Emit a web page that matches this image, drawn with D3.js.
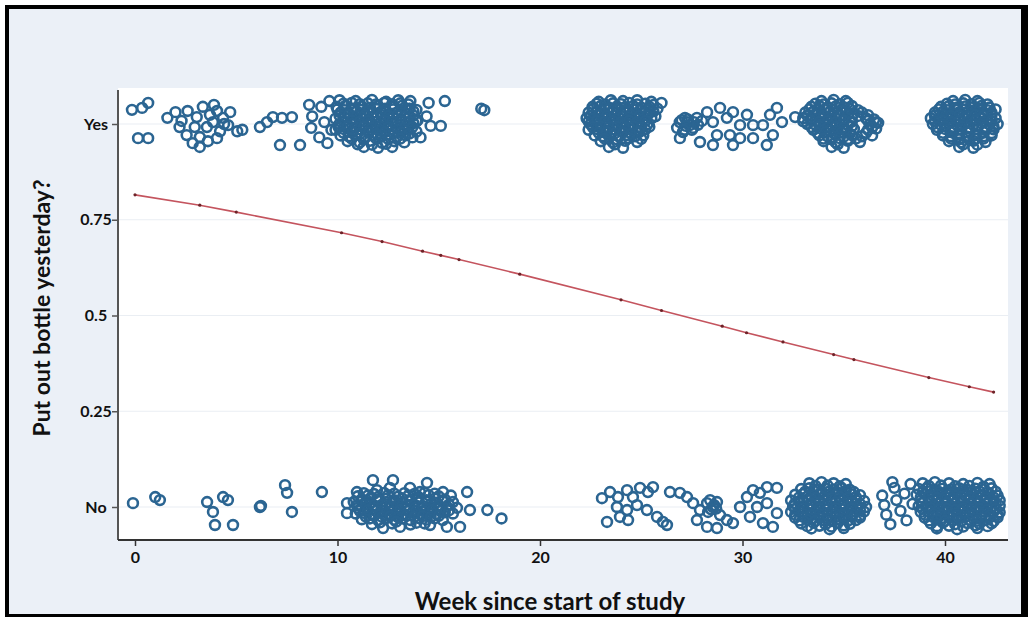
<!DOCTYPE html>
<html>
<head>
<meta charset="utf-8">
<script src="https://cdn.jsdelivr.net/npm/d3@7"></script>
<style>
  html, body { margin: 0; padding: 0; background: #fff; }
  svg text { font-family: Lato, "Open Sans", sans-serif; font-weight: 700; fill: #111; }
</style>
</head>
<body>
<div id="chart"></div>
<script>
// Data
const xTicks = [0, 10, 20, 30, 40]
const yTicks = [0, 0.25, 0.5, 0.75, 1]
const yTickLabels = ['No', '0.25', '0.5', '0.75', 'Yes']

// jittered responses: [week, jittered answer]
const yesPoints = [
  [-0.15,1.037],[0.35,1.042],[0.65,1.055],[0.15,0.963],[0.65,0.963],
  [1.6,1.016],[2.0,1.031],[2.3,1.008],[2.6,1.034],[3.05,1.018],[3.35,1.045],[3.7,1.024],[4.05,1.034],[4.35,1.016],[4.7,1.031],
  [2.2,0.992],[2.55,0.971],[2.95,0.992],[3.2,0.966],[3.55,0.992],[3.85,1.005],[4.2,0.981],[4.6,0.997],[5.05,0.981],[5.3,0.985],
  [2.85,0.95],[3.2,0.94],[4.05,0.963],[3.6,0.955],[4.4,1.0],[3.9,1.05],
  [6.17,0.992],[6.52,1.005],[6.81,1.018],[7.26,1.016],[7.75,1.018],[7.16,0.945],[8.15,0.945],
  [8.6,1.05],[8.75,1.02],[8.7,0.99],[9.2,1.045],[9.35,1.005],[9.1,0.965],[9.6,1.06],[9.7,0.985],[9.5,0.95],
  [10.1,1.062],[10.9,1.06],[11.7,1.063],[12.4,1.058],[13.0,1.062],[13.6,1.06],
  [9.95,1.045],[10.4,1.048],[10.8,1.04],[11.2,1.046],[11.6,1.042],[12.0,1.047],[12.35,1.04],[12.8,1.045],[13.2,1.048],[13.55,1.04],
  [10.15,1.03],[10.55,1.028],[10.95,1.033],[11.35,1.027],[11.75,1.03],[12.15,1.032],[12.55,1.026],[12.95,1.03],[13.35,1.028],[13.75,1.033],
  [9.9,1.014],[10.35,1.017],[10.75,1.012],[11.15,1.016],[11.55,1.013],[11.95,1.018],[12.35,1.012],[12.75,1.016],[13.15,1.013],[13.55,1.017],[13.95,1.01],
  [10.1,1.0],[10.5,0.998],[10.9,1.003],[11.3,0.997],[11.7,1.0],[12.1,1.002],[12.5,0.997],[12.9,1.001],[13.3,0.998],[13.75,1.002],
  [9.9,0.985],[10.3,0.987],[10.7,0.982],[11.1,0.986],[11.5,0.983],[11.9,0.988],[12.3,0.982],[12.7,0.986],[13.1,0.983],[13.5,0.987],[13.9,0.98],
  [10.15,0.97],[10.55,0.968],[10.95,0.972],[11.35,0.967],[11.75,0.971],[12.15,0.968],[12.55,0.972],[12.95,0.967],[13.35,0.97],[13.7,0.965],
  [10.5,0.955],[11.1,0.952],[11.6,0.956],[12.2,0.951],[12.8,0.955],[13.3,0.952],
  [11.3,0.94],[12.0,0.938],[12.7,0.94],
  [10.3,1.053],[10.7,1.055],[11.1,1.052],[11.5,1.054],[11.9,1.051],[12.3,1.055],[12.7,1.052],[13.1,1.054],[13.5,1.051],
  [10.0,1.038],[10.35,1.036],[10.75,1.039],[11.15,1.037],[11.55,1.035],[11.95,1.039],[12.35,1.036],[12.75,1.038],[13.15,1.035],[13.55,1.039],[13.9,1.037],
  [10.1,1.022],[10.55,1.024],[10.95,1.021],[11.35,1.023],[11.75,1.02],[12.15,1.024],[12.55,1.021],[12.95,1.023],[13.35,1.02],[13.75,1.022],
  [10.3,1.007],[10.7,1.009],[11.1,1.006],[11.5,1.008],[11.9,1.005],[12.3,1.009],[12.7,1.006],[13.1,1.008],[13.5,1.005],[13.9,1.007],
  [10.05,0.992],[10.5,0.994],[10.9,0.991],[11.3,0.993],[11.7,0.99],[12.1,0.994],[12.5,0.991],[12.9,0.993],[13.3,0.99],[13.7,0.992],
  [10.3,0.977],[10.75,0.979],[11.15,0.976],[11.55,0.978],[11.95,0.975],[12.35,0.979],[12.75,0.976],[13.15,0.978],[13.55,0.975],
  [10.7,0.962],[11.3,0.96],[11.9,0.963],[12.5,0.961],[13.1,0.962],[11.0,0.947],[11.7,0.946],[12.4,0.948],
  [14.5,1.055],[15.3,1.06],[14.4,1.02],[14.6,0.995],[15.1,0.995],[14.1,0.965],[17.1,1.04],[17.25,1.036],
  [22.9,1.058],[23.5,1.062],[24.1,1.06],[24.8,1.062],[25.5,1.058],[26.0,1.055],
  [22.6,1.045],[23.0,1.047],[23.4,1.043],[23.8,1.046],[24.2,1.044],[24.6,1.047],[25.0,1.043],[25.4,1.045],
  [22.4,1.03],[22.8,1.032],[23.2,1.028],[23.6,1.031],[24.0,1.029],[24.4,1.032],[24.8,1.028],[25.2,1.03],[25.6,1.033],
  [22.3,1.015],[22.7,1.013],[23.1,1.017],[23.5,1.012],[23.9,1.016],[24.3,1.013],[24.7,1.017],[25.1,1.012],[25.5,1.015],
  [22.5,1.0],[22.9,0.998],[23.3,1.002],[23.7,0.997],[24.1,1.001],[24.5,0.998],[24.9,1.002],[25.3,0.999],
  [22.4,0.985],[22.8,0.987],[23.2,0.983],[23.6,0.986],[24.0,0.982],[24.4,0.987],[24.8,0.984],[25.2,0.986],
  [22.7,0.97],[23.1,0.968],[23.5,0.972],[23.9,0.967],[24.3,0.971],[24.7,0.968],[25.1,0.97],
  [23.0,0.955],[23.6,0.952],[24.2,0.956],[24.8,0.953],[23.4,0.94],[24.1,0.938],
  [22.8,1.053],[23.2,1.051],[23.6,1.054],[24.0,1.052],[24.4,1.055],[24.8,1.051],[25.2,1.053],[25.6,1.05],
  [22.6,1.038],[23.0,1.036],[23.4,1.039],[23.8,1.037],[24.2,1.035],[24.6,1.039],[25.0,1.036],[25.4,1.038],[25.8,1.04],
  [22.5,1.022],[22.9,1.024],[23.3,1.021],[23.7,1.023],[24.1,1.02],[24.5,1.024],[24.9,1.021],[25.3,1.023],[25.7,1.02],
  [22.4,1.007],[22.8,1.009],[23.2,1.006],[23.6,1.008],[24.0,1.005],[24.4,1.009],[24.8,1.006],[25.2,1.008],
  [22.6,0.992],[23.0,0.994],[23.4,0.991],[23.8,0.993],[24.2,0.99],[24.6,0.994],[25.0,0.991],[25.4,0.993],
  [22.9,0.977],[23.3,0.979],[23.7,0.976],[24.1,0.978],[24.5,0.975],[24.9,0.979],
  [23.2,0.962],[23.8,0.96],[24.4,0.963],[25.0,0.961],[23.7,0.947],
  [26.77,0.99],[27.26,1.005],[27.75,1.016],[27.06,0.979],[27.56,0.99],[28.25,1.031],[28.54,1.005],[28.89,1.042],[29.23,1.016],
  [29.53,1.031],[29.88,0.997],[30.22,1.024],[30.52,0.997],[28.74,0.971],[29.38,0.971],[29.88,0.963],[30.52,0.963],[26.91,0.963],
  [27.9,0.953],[28.54,0.945],[29.53,0.945],[31.01,0.997],[31.36,1.024],[31.5,0.971],[31.2,0.945],[31.7,1.042],[31.95,1.005],
  [27.16,1.016],[27.4,0.997],[26.9,1.005],[32.6,1.018],
  [27.0,1.01],[27.3,1.012],[27.6,1.005],[27.2,0.995],[27.5,0.985],[27.8,0.998],[27.1,0.985],[28.0,1.008],
  [33.9,1.06],[34.5,1.063],[35.1,1.06],
  [33.4,1.045],[33.8,1.047],[34.2,1.043],[34.6,1.046],[35.0,1.044],[35.4,1.047],
  [33.1,1.03],[33.5,1.032],[33.9,1.028],[34.3,1.031],[34.7,1.029],[35.1,1.032],[35.5,1.028],[35.9,1.03],
  [33.0,1.015],[33.4,1.013],[33.8,1.017],[34.2,1.012],[34.6,1.016],[35.0,1.013],[35.4,1.017],[36.1,1.015],[36.5,1.012],
  [33.2,1.0],[33.6,0.998],[34.0,1.002],[34.4,0.997],[34.8,1.001],[35.2,0.998],[36.3,1.0],[36.7,1.003],
  [33.5,0.985],[33.9,0.987],[34.3,0.983],[34.7,0.986],[35.1,0.982],[35.5,0.987],[36.2,0.985],[36.6,0.988],
  [33.8,0.97],[34.2,0.968],[34.6,0.972],[35.0,0.967],[35.4,0.971],[35.9,0.968],[36.4,0.97],
  [34.0,0.955],[34.6,0.952],[35.2,0.956],[35.8,0.953],[34.4,0.94],[35.0,0.938],
  [33.6,1.053],[34.0,1.051],[34.4,1.054],[34.8,1.052],[35.2,1.055],
  [33.3,1.038],[33.7,1.036],[34.1,1.039],[34.5,1.037],[34.9,1.035],[35.3,1.039],[35.7,1.036],
  [33.2,1.022],[33.6,1.024],[34.0,1.021],[34.4,1.023],[34.8,1.02],[35.2,1.024],[35.7,1.021],[36.2,1.023],
  [33.0,1.007],[33.4,1.009],[33.8,1.006],[34.2,1.008],[34.6,1.005],[35.0,1.009],[35.4,1.006],[36.2,1.008],[36.6,1.005],
  [33.4,0.992],[33.8,0.994],[34.2,0.991],[34.6,0.993],[35.0,0.99],[35.4,0.994],[36.4,0.991],
  [33.7,0.977],[34.1,0.979],[34.5,0.976],[34.9,0.978],[35.3,0.975],[36.1,0.977],
  [34.0,0.962],[34.4,0.96],[34.8,0.963],[35.2,0.961],[35.6,0.962],[34.7,0.947],
  [40.4,1.06],[41.0,1.063],[41.6,1.06],
  [39.8,1.045],[40.2,1.047],[40.6,1.043],[41.0,1.046],[41.4,1.044],[41.8,1.047],[42.2,1.043],
  [39.5,1.03],[39.9,1.032],[40.3,1.028],[40.7,1.031],[41.1,1.029],[41.5,1.032],[41.9,1.028],[42.3,1.03],
  [39.3,1.015],[39.7,1.013],[40.1,1.017],[40.5,1.012],[40.9,1.016],[41.3,1.013],[41.7,1.017],[42.1,1.012],[42.5,1.015],
  [39.4,1.0],[39.8,0.998],[40.2,1.002],[40.6,0.997],[41.0,1.001],[41.4,0.998],[41.8,1.002],[42.2,0.999],[42.6,1.0],
  [39.6,0.985],[40.0,0.987],[40.4,0.983],[40.8,0.986],[41.2,0.982],[41.6,0.987],[42.0,0.984],[42.4,0.986],
  [39.9,0.97],[40.3,0.968],[40.7,0.972],[41.1,0.967],[41.5,0.971],[41.9,0.968],[42.3,0.97],
  [40.2,0.955],[40.8,0.952],[41.4,0.956],[42.0,0.953],[40.7,0.94],[41.4,0.938],
  [40.1,1.053],[40.5,1.051],[40.9,1.054],[41.3,1.052],[41.7,1.055],[42.1,1.051],
  [39.7,1.038],[40.1,1.036],[40.5,1.039],[40.9,1.037],[41.3,1.035],[41.7,1.039],[42.1,1.036],[42.5,1.038],
  [39.5,1.022],[39.9,1.024],[40.3,1.021],[40.7,1.023],[41.1,1.02],[41.5,1.024],[41.9,1.021],[42.3,1.023],
  [39.5,1.007],[39.9,1.009],[40.3,1.006],[40.7,1.008],[41.1,1.005],[41.5,1.009],[41.9,1.006],[42.3,1.008],
  [39.6,0.992],[40.0,0.994],[40.4,0.991],[40.8,0.993],[41.2,0.99],[41.6,0.994],[42.0,0.991],[42.4,0.993],
  [39.9,0.977],[40.3,0.979],[40.7,0.976],[41.1,0.978],[41.5,0.975],[41.9,0.979],[42.3,0.976],
  [40.3,0.962],[40.7,0.96],[41.1,0.963],[41.5,0.961],[41.9,0.962],[40.9,0.947],[41.6,0.946]
]

const noPoints = [
  [-0.1,0.01],[1.0,0.026],[1.23,0.018],[3.56,0.013],[4.35,0.026],[4.59,0.018],[3.85,-0.013],[3.95,-0.047],[4.84,-0.047],
  [6.17,0.0],[6.22,0.003],[7.41,0.057],[7.51,0.037],[7.75,-0.013],[9.23,0.039],
  [11.75,0.07],[12.74,0.07],[14.42,0.063],[10.96,0.039],[11.95,0.044],[12.59,0.05],[13.58,0.05],[14.07,0.039],[15.21,0.039],[16.4,0.039],
  [10.47,0.01],[10.47,-0.016],[16.54,-0.008],[15.4,-0.052],[16.05,-0.052],[12.25,-0.055],[13.09,-0.052],[14.57,-0.047],
  [11.0,0.028],[11.5,0.03],[12.0,0.026],[12.5,0.031],[13.0,0.027],[13.5,0.03],[14.0,0.026],[14.5,0.031],[15.0,0.028],[15.6,0.03],
  [10.8,0.013],[11.2,0.015],[11.6,0.011],[12.0,0.016],[12.4,0.012],[12.8,0.015],[13.2,0.011],[13.6,0.016],[14.0,0.012],[14.4,0.015],[14.8,0.011],[15.2,0.016],[15.7,0.013],
  [11.0,-0.002],[11.4,0.0],[11.8,-0.004],[12.2,0.001],[12.6,-0.003],[13.0,0.0],[13.4,-0.004],[13.8,0.001],[14.2,-0.003],[14.6,0.0],[15.0,-0.004],[15.4,0.001],[15.9,-0.002],
  [10.9,-0.017],[11.3,-0.015],[11.7,-0.019],[12.1,-0.014],[12.5,-0.018],[12.9,-0.015],[13.3,-0.019],[13.7,-0.014],[14.1,-0.018],[14.5,-0.015],[14.9,-0.019],[15.3,-0.014],[15.7,-0.017],
  [11.2,-0.032],[11.6,-0.03],[12.0,-0.034],[12.4,-0.029],[12.8,-0.033],[13.2,-0.03],[13.6,-0.034],[14.0,-0.029],[14.4,-0.033],[14.8,-0.03],[15.2,-0.034],
  [11.7,-0.045],[12.7,-0.043],[13.6,-0.046],[14.3,-0.043],
  [11.3,0.036],[11.8,0.034],[12.3,0.037],[12.8,0.035],[13.3,0.036],[13.8,0.034],[14.3,0.037],[14.8,0.035],
  [11.2,0.02],[11.6,0.022],[12.0,0.019],[12.4,0.021],[12.8,0.018],[13.2,0.022],[13.6,0.019],[14.0,0.021],[14.4,0.018],[14.8,0.022],[15.3,0.02],
  [11.0,0.005],[11.4,0.007],[11.8,0.004],[12.2,0.006],[12.6,0.003],[13.0,0.007],[13.4,0.004],[13.8,0.006],[14.2,0.003],[14.6,0.007],[15.0,0.004],[15.5,0.006],
  [11.1,-0.01],[11.5,-0.008],[11.9,-0.011],[12.3,-0.009],[12.7,-0.012],[13.1,-0.008],[13.5,-0.011],[13.9,-0.009],[14.3,-0.012],[14.7,-0.008],[15.1,-0.011],[15.5,-0.009],
  [11.4,-0.025],[11.8,-0.023],[12.2,-0.026],[12.6,-0.024],[13.0,-0.027],[13.4,-0.023],[13.8,-0.026],[14.2,-0.024],[14.6,-0.027],[15.0,-0.023],
  [12.1,-0.04],[12.9,-0.038],[13.9,-0.041],
  [17.4,-0.008],[18.1,-0.03],
  [23.06,0.023],[23.46,0.039],[23.85,0.026],[24.3,0.044],[24.59,0.026],[24.94,0.05],[25.33,0.039],[25.58,0.052],[23.8,0.0],
  [24.3,-0.008],[24.79,0.005],[25.28,-0.008],[23.95,-0.026],[24.35,-0.034],[25.78,-0.026],[23.31,-0.039],[26.07,-0.039],[26.27,-0.047],
  [26.42,0.039],[26.91,0.037],[27.26,0.026],[27.56,0.01],[27.9,-0.008],[28.25,0.01],[28.54,0.0],[28.4,0.018],[28.74,0.013],[28.3,-0.013],
  [28.89,-0.021],[29.23,-0.034],[29.53,-0.042],[29.88,0.0],[30.22,0.026],[30.52,0.044],[30.86,0.037],[31.21,0.052],[31.7,0.05],
  [30.37,-0.026],[31.01,-0.042],[31.5,-0.052],[27.75,-0.034],[28.25,-0.052],[28.74,-0.055],[30.72,0.0],[31.21,0.01],[31.7,-0.016],
  [28.6,0.005],[28.45,-0.006],[28.7,-0.004],
  [33.3,0.062],[33.9,0.065],[34.5,0.062],[35.1,0.06],
  [32.9,0.047],[33.3,0.049],[33.7,0.045],[34.1,0.048],[34.5,0.046],[34.9,0.049],[35.3,0.045],
  [32.6,0.032],[33.0,0.034],[33.4,0.03],[33.8,0.033],[34.2,0.031],[34.6,0.034],[35.0,0.03],[35.4,0.033],[35.8,0.031],
  [32.4,0.017],[32.8,0.015],[33.2,0.019],[33.6,0.014],[34.0,0.018],[34.4,0.015],[34.8,0.019],[35.2,0.014],[35.6,0.018],[36.0,0.016],
  [32.5,0.002],[32.9,0.0],[33.3,0.004],[33.7,-0.001],[34.1,0.003],[34.5,0.0],[34.9,0.004],[35.3,-0.001],[35.7,0.002],[36.1,0.0],
  [32.4,-0.013],[32.8,-0.011],[33.2,-0.015],[33.6,-0.01],[34.0,-0.014],[34.4,-0.011],[34.8,-0.015],[35.2,-0.01],[35.6,-0.013],[36.0,-0.012],
  [32.6,-0.028],[33.0,-0.026],[33.4,-0.03],[33.8,-0.025],[34.2,-0.029],[34.6,-0.026],[35.0,-0.03],[35.4,-0.025],[35.8,-0.028],
  [32.9,-0.043],[33.5,-0.041],[34.1,-0.045],[34.7,-0.042],[35.3,-0.044],[33.4,-0.056],[34.3,-0.058],[35.0,-0.055],
  [33.6,0.055],[34.2,0.056],[34.8,0.054],
  [33.1,0.04],[33.5,0.042],[33.9,0.039],[34.3,0.041],[34.7,0.038],[35.1,0.042],[35.5,0.039],
  [32.8,0.025],[33.2,0.027],[33.6,0.024],[34.0,0.026],[34.4,0.023],[34.8,0.027],[35.2,0.024],[35.6,0.026],
  [32.6,0.01],[33.0,0.012],[33.4,0.009],[33.8,0.011],[34.2,0.008],[34.6,0.012],[35.0,0.009],[35.4,0.011],[35.8,0.008],
  [32.6,-0.005],[33.0,-0.003],[33.4,-0.006],[33.8,-0.004],[34.2,-0.007],[34.6,-0.003],[35.0,-0.006],[35.4,-0.004],[35.8,-0.007],
  [32.6,-0.02],[33.0,-0.018],[33.4,-0.021],[33.8,-0.019],[34.2,-0.022],[34.6,-0.018],[35.0,-0.021],[35.4,-0.019],[35.8,-0.022],
  [32.8,-0.035],[33.2,-0.033],[33.6,-0.036],[34.0,-0.034],[34.4,-0.037],[34.8,-0.033],[35.2,-0.036],[35.6,-0.034],
  [33.2,-0.05],[33.8,-0.049],[34.4,-0.051],[35.0,-0.048],
  [36.9,0.03],[37.0,0.005],[37.1,-0.02],[37.3,-0.045],[37.5,0.05],[37.6,0.018],[37.8,-0.01],[38.0,0.035],[38.1,-0.035],[38.3,0.06],[38.4,0.008],[37.4,0.065],
  [38.9,0.062],[39.5,0.065],[40.2,0.062],[40.9,0.06],[41.6,0.063],[42.2,0.06],
  [38.7,0.047],[39.1,0.049],[39.5,0.045],[39.9,0.048],[40.3,0.046],[40.7,0.049],[41.1,0.045],[41.5,0.048],[41.9,0.046],[42.3,0.049],
  [38.6,0.032],[39.0,0.034],[39.4,0.03],[39.8,0.033],[40.2,0.031],[40.6,0.034],[41.0,0.03],[41.4,0.033],[41.8,0.031],[42.2,0.034],[42.6,0.03],
  [38.8,0.017],[39.2,0.015],[39.6,0.019],[40.0,0.014],[40.4,0.018],[40.8,0.015],[41.2,0.019],[41.6,0.014],[42.0,0.018],[42.4,0.015],[42.7,0.017],
  [38.7,0.002],[39.1,0.0],[39.5,0.004],[39.9,-0.001],[40.3,0.003],[40.7,0.0],[41.1,0.004],[41.5,-0.001],[41.9,0.002],[42.3,0.0],[42.7,0.003],
  [38.8,-0.013],[39.2,-0.011],[39.6,-0.015],[40.0,-0.01],[40.4,-0.014],[40.8,-0.011],[41.2,-0.015],[41.6,-0.01],[42.0,-0.013],[42.4,-0.012],[42.7,-0.014],
  [39.0,-0.028],[39.4,-0.026],[39.8,-0.03],[40.2,-0.025],[40.6,-0.029],[41.0,-0.026],[41.4,-0.03],[41.8,-0.025],[42.2,-0.028],[42.6,-0.027],
  [39.3,-0.043],[39.9,-0.041],[40.5,-0.045],[41.1,-0.042],[41.7,-0.044],[42.3,-0.043],[39.6,-0.056],[40.6,-0.058],[41.6,-0.055],
  [39.2,0.055],[39.8,0.056],[40.5,0.054],[41.2,0.055],[41.9,0.053],
  [38.9,0.04],[39.3,0.042],[39.7,0.039],[40.1,0.041],[40.5,0.038],[40.9,0.042],[41.3,0.039],[41.7,0.041],[42.1,0.038],[42.5,0.04],
  [38.8,0.025],[39.2,0.027],[39.6,0.024],[40.0,0.026],[40.4,0.023],[40.8,0.027],[41.2,0.024],[41.6,0.026],[42.0,0.023],[42.4,0.025],
  [38.9,0.01],[39.3,0.012],[39.7,0.009],[40.1,0.011],[40.5,0.008],[40.9,0.012],[41.3,0.009],[41.7,0.011],[42.1,0.008],[42.5,0.01],
  [38.9,-0.005],[39.3,-0.003],[39.7,-0.006],[40.1,-0.004],[40.5,-0.007],[40.9,-0.003],[41.3,-0.006],[41.7,-0.004],[42.1,-0.007],[42.5,-0.005],
  [39.0,-0.02],[39.4,-0.018],[39.8,-0.021],[40.2,-0.019],[40.6,-0.022],[41.0,-0.018],[41.4,-0.021],[41.8,-0.019],[42.2,-0.022],[42.6,-0.02],
  [39.2,-0.035],[39.6,-0.033],[40.0,-0.036],[40.4,-0.034],[40.8,-0.037],[41.2,-0.033],[41.6,-0.036],[42.0,-0.034],[42.4,-0.037],
  [39.6,-0.05],[40.2,-0.049],[40.9,-0.051],[41.5,-0.048],[42.1,-0.05]
]

// fitted probability (logistic fit) at observed weeks
const fitWeeks = [0, 3.2, 5.0, 10.2, 12.2, 14.2, 15.1, 16.0, 19.0, 24.0, 26.0, 29.0, 30.2, 32.0, 34.5, 35.5, 39.2, 41.2, 42.4]
const fitProb  = [0.815, 0.788, 0.770, 0.716, 0.693, 0.668, 0.657, 0.646, 0.608, 0.541, 0.513, 0.472, 0.455, 0.431, 0.398, 0.385, 0.338, 0.314, 0.300]

// Dimensions
const dimensions = { width: 1028, height: 617 }
const plot = { left: 118, right: 1008, top: 88, bottom: 540 }

const svg = d3.select('#chart')
  .append('svg')
  .attr('width', dimensions.width)
  .attr('height', dimensions.height)

// frame
svg.append('rect')
  .attr('x', 5).attr('y', 5)
  .attr('width', dimensions.width - 5).attr('height', dimensions.height - 5)
  .attr('fill', '#000')
svg.append('rect')
  .attr('x', 9).attr('y', 9)
  .attr('width', 1021 - 9).attr('height', 614 - 9)
  .attr('fill', '#ebf0f7')

svg.append('rect')
  .attr('x', plot.left).attr('y', plot.top)
  .attr('width', plot.right - plot.left).attr('height', plot.bottom - plot.top)
  .attr('fill', '#fff')

// scales
const x = d3.scaleLinear().domain([0, 40]).range([135, 945])
const y = d3.scaleLinear().domain([0, 1]).range([507, 124])

// grid
svg.append('g')
  .selectAll('line')
  .data(yTicks)
  .join('line')
  .attr('x1', plot.left).attr('x2', plot.right)
  .attr('y1', d => y(d)).attr('y2', d => y(d))
  .attr('stroke', '#eaeef3')
  .attr('stroke-width', 1.2)

// points
const pts = svg.append('g')
  .attr('fill', 'none')
  .attr('stroke', '#2b6592')
  .attr('stroke-width', 2.6)

pts.selectAll('circle')
  .data(yesPoints.concat(noPoints))
  .join('circle')
  .attr('cx', d => x(d[0]))
  .attr('cy', d => y(d[1]))
  .attr('r', 4.9)

// fitted line
const fit = fitWeeks.map((w, i) => [w, fitProb[i]])

svg.append('path')
  .datum(fit)
  .attr('fill', 'none')
  .attr('stroke', '#c4545e')
  .attr('stroke-width', 1.6)
  .attr('d', d3.line().x(d => x(d[0])).y(d => y(d[1])))

svg.append('g')
  .selectAll('circle')
  .data(fit)
  .join('circle')
  .attr('cx', d => x(d[0]))
  .attr('cy', d => y(d[1]))
  .attr('r', 1.6)
  .attr('fill', '#6e2328')

// axes
const yAxis = svg.append('g')
  .attr('transform', `translate(${plot.left},0)`)
  .call(d3.axisLeft(y)
    .tickValues(yTicks)
    .tickFormat((d, i) => yTickLabels[i])
    .tickSize(6))
yAxis.select('.domain').remove()
yAxis.selectAll('.tick line').attr('stroke', '#555').attr('stroke-width', 1.5)
yAxis.selectAll('.tick text')
  .attr('x', -22)
  .attr('text-anchor', 'middle')
  .style('font-size', '16px')

const xAxis = svg.append('g')
  .attr('transform', `translate(0,${plot.bottom})`)
  .call(d3.axisBottom(x)
    .tickValues(xTicks)
    .tickSize(6)
    .tickPadding(6))
xAxis.select('.domain').remove()
xAxis.selectAll('.tick line').attr('stroke', '#333').attr('stroke-width', 1.5)
xAxis.selectAll('.tick text').style('font-size', '16px')

svg.append('line')
  .attr('x1', plot.left).attr('x2', plot.left)
  .attr('y1', plot.top + 2).attr('y2', plot.bottom)
  .attr('stroke', '#555').attr('stroke-width', 2)

svg.append('line')
  .attr('x1', plot.left).attr('x2', plot.right)
  .attr('y1', plot.bottom).attr('y2', plot.bottom)
  .attr('stroke', '#333').attr('stroke-width', 2)

// titles
svg.append('text')
  .attr('x', 550).attr('y', 610)
  .attr('text-anchor', 'middle')
  .style('font-size', '24px')
  .text('Week since start of study')

svg.append('text')
  .attr('transform', 'translate(50,308) rotate(-90)')
  .attr('text-anchor', 'middle')
  .style('font-size', '23px')
  .text('Put out bottle yesterday?')
</script>
</body>
</html>
